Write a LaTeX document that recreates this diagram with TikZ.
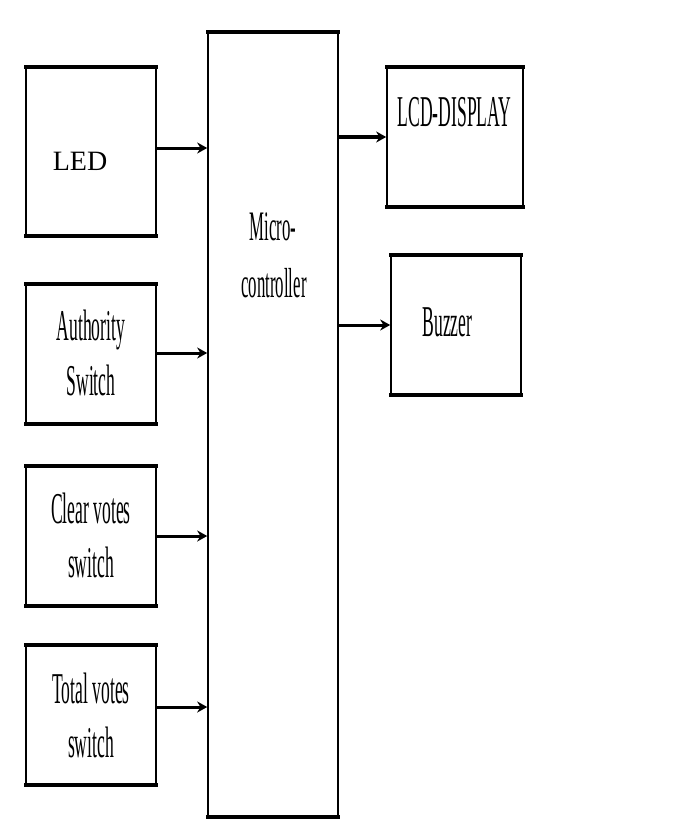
\documentclass[tikz,border=0pt]{standalone}
\usepackage{fontspec}
\setmainfont{Liberation Serif}
\newfontfamily\cf[FakeStretch=0.4]{Liberation Serif}
\usetikzlibrary{arrows.meta}
\tikzset{
  blk/.style={draw, line width=1.6pt, inner sep=0pt, minimum width=#1},
  blk/.default=130pt,
  edge/.style={line width=3.5pt},
  arr/.style={line width=3pt, -{Stealth[length=10pt,width=11pt]}},
  lbl/.style={anchor=base, inner sep=0pt, font=\cf\fontsize{44}{44}\selectfont},
}
\begin{document}
\begin{tikzpicture}[x=1pt,y=-1pt]
\useasboundingbox[fill=white] (0,0) rectangle (693,824);
% boxes
\node[blk, minimum height=167pt] (led) at (91,151.5) {};
\node[blk, minimum height=138pt] (auth) at (91,354) {};
\node[blk, minimum height=138pt] (clear) at (91,536) {};
\node[blk, minimum height=138pt] (total) at (91,715) {};
\node[blk, minimum height=783pt] (micro) at (273,424.5) {};
\node[blk=136pt, minimum height=138pt] (lcd) at (455,137) {};
\node[blk, minimum height=138pt] (buzz) at (456,325) {};
\foreach \n in {led,auth,clear,total,micro,lcd,buzz}{
  \draw[edge] ([xshift=-0.8pt]\n.north west) -- ([xshift=0.8pt]\n.north east);
  \draw[edge] ([xshift=-0.8pt]\n.south west) -- ([xshift=0.8pt]\n.south east);
}
% labels
\node[anchor=base, inner sep=0pt, font=\fontsize{28}{28}\selectfont] (tled) at (80,170) {LED};
\node[lbl] (ta1) at (91,340) {Authority};
\node[lbl] (ta2) at (91,395) {Switch};
\node[lbl] (tc1) at (91,523) {Clear votes};
\node[lbl] (tc2) at (91,577) {switch};
\node[lbl] (tt1) at (91,703) {Total votes};
\node[lbl] (tt2) at (91,757) {switch};
\node[lbl, font=\cf\fontsize{42}{42}\selectfont] (tm1) at (273,240) {Micro-};
\node[lbl, font=\cf\fontsize{42}{42}\selectfont] (tm2) at (274,297) {controller};
\node[lbl] (tlcd) at (454.5,127) {LCD-DISPLAY};
\node[lbl] (tbuz) at (447.5,336) {Buzzer};
% connector start points
\coordinate (sled) at ([yshift=3.5pt]led.east);
\coordinate (sauth) at ([yshift=1pt]auth.east);
\coordinate (sclear) at (clear.east);
\coordinate (stotal) at ([yshift=8pt]total.east);
% connectors
\draw[arr] (sled) -- (sled -| micro.west);
\draw[arr] (sauth) -- (sauth -| micro.west);
\draw[arr] (sclear) -- (sclear -| micro.west);
\draw[arr] (stotal) -- (stotal -| micro.west);
\draw[arr] (micro.east |- lcd.west) -- (lcd.west);
\draw[arr] (micro.east |- buzz.west) -- (buzz.west);
\end{tikzpicture}
\end{document}
